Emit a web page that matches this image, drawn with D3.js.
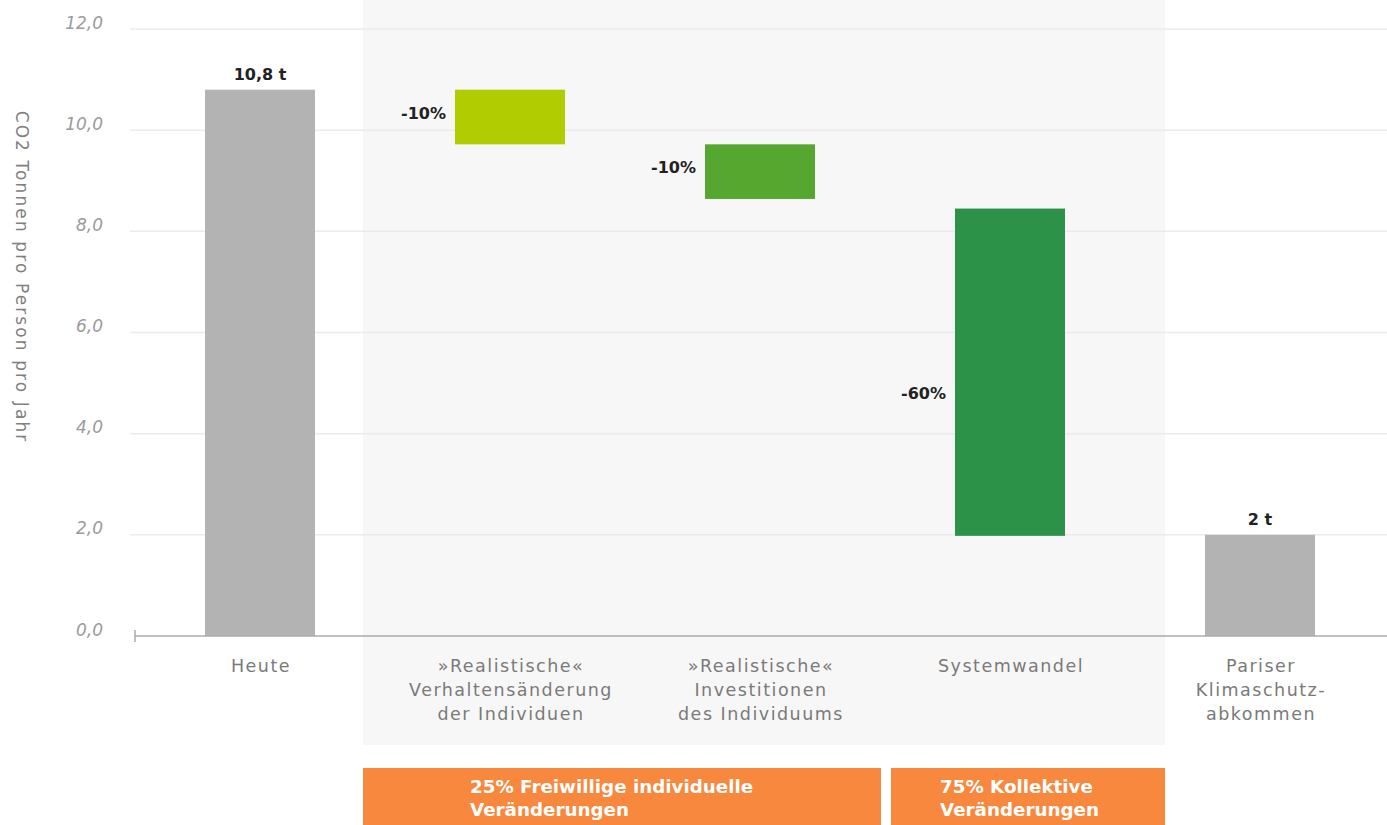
<!DOCTYPE html>
<html><head><meta charset="utf-8">
<script src="https://cdn.jsdelivr.net/npm/d3@7"></script>
<style>
html,body{margin:0;padding:0;background:#fff;}
svg{display:block;font-family:"DejaVu Sans",sans-serif;}
</style></head>
<body>
<svg id="c" width="1387" height="825"></svg>
<script>
const categories = [
  ["Heute"],
  ["»Realistische«","Verhaltensänderung","der Individuen"],
  ["»Realistische«","Investitionen","des Individuums"],
  ["Systemwandel"],
  ["Pariser","Klimaschutz-","abkommen"]
];
const barStart = [0, 10.8, 9.72, 8.45, 0];
const barEnd   = [10.8, 9.72, 8.64, 1.98, 2.0];
const barLabels = ["10,8 t", "-10%", "-10%", "-60%", "2 t"];
const barKinds = ["total","delta","delta","delta","total"];
const barColors = ["#b3b3b3", "#b1cc00", "#55a72f", "#2c9248", "#b3b3b3"];
const yTicks = [0, 2, 4, 6, 8, 10, 12];
const yTitle = "CO2 Tonnen pro Person pro Jahr";
const groups = [
  {from:1, to:2, label:["25% Freiwillige individuelle","Veränderungen"]},
  {from:3, to:3, label:["75% Kollektive","Veränderungen"]}
];

const svg = d3.select("#c");
const W = 1387, H = 825;
const m = {left:135, right:2, top:29, bottom:189};
const x = d3.scaleBand().domain(d3.range(categories.length)).range([m.left, W - m.right]).paddingInner(0.56).paddingOuter(0.28);
const y = d3.scaleLinear().domain([0, 12]).range([H - m.bottom, m.top]);

// shaded region behind delta bars
const shadeX0 = 363, shadeX1 = 1165;
svg.append("rect").attr("x", shadeX0).attr("y", 0).attr("width", shadeX1 - shadeX0).attr("height", 745).attr("fill", "#f7f7f7");

// gridlines
svg.append("g").selectAll("line").data(yTicks.filter(d => d > 0)).join("line")
  .attr("x1", 130).attr("x2", W).attr("y1", d => y(d)).attr("y2", d => y(d))
  .attr("stroke", "#ebebeb").attr("stroke-width", 1.5);

// y axis labels
const fmt = d => d3.format(".1f")(d).replace(".", ",");
const yAxis = svg.append("g").attr("transform", `translate(${m.left},0)`)
  .call(d3.axisLeft(y).tickValues(yTicks).tickFormat(fmt).tickSize(0).tickPadding(32));
yAxis.select(".domain").remove();
yAxis.attr("font-family", null);
yAxis.selectAll("text").attr("fill", "#9a9a9a").attr("font-size", 17).attr("font-style", "italic").attr("dy", "-0.05em");

// y title
svg.append("text").attr("transform", `translate(16,277) rotate(90)`)
  .attr("text-anchor", "middle").attr("fill", "#808080").attr("font-size", 17).attr("letter-spacing", 2.1).text(yTitle);

// bars
svg.append("g").selectAll("rect").data(categories).join("rect")
  .attr("x", (d, i) => x(i)).attr("width", x.bandwidth())
  .attr("y", (d, i) => y(Math.max(barStart[i], barEnd[i])))
  .attr("height", (d, i) => Math.abs(y(barStart[i]) - y(barEnd[i])))
  .attr("fill", (d, i) => barColors[i]);

// x axis line
svg.append("line").attr("x1", m.left).attr("x2", W).attr("y1", y(0)).attr("y2", y(0)).attr("stroke", "#aaa").attr("stroke-width", 1.5);
svg.append("line").attr("x1", m.left).attr("x2", m.left).attr("y1", y(0) - 6).attr("y2", y(0) + 6).attr("stroke", "#aaa").attr("stroke-width", 1.5);

// bar labels
svg.append("g").selectAll("text").data(categories).join("text")
  .attr("x", (d, i) => barKinds[i] === "total" ? x(i) + x.bandwidth()/2 : x(i) - 9)
  .attr("y", (d, i) => barKinds[i] === "total" ? y(barEnd[i]) - 10 : (y(barStart[i]) + y(barEnd[i]))/2 + (i === 3 ? 25 : 0))
  .attr("dy", (d, i) => barKinds[i] === "total" ? 0 : "0.1em")
  .attr("text-anchor", (d, i) => barKinds[i] === "total" ? "middle" : "end")
  .attr("font-size", 16).attr("font-weight", 700).attr("fill", "#222")
  .text((d, i) => barLabels[i]);

// category labels
const cl = svg.append("g").selectAll("text").data(categories).join("text")
  .attr("x", (d, i) => x(i) + x.bandwidth()/2 + 1).attr("y", 672)
  .attr("text-anchor", "middle").attr("font-size", 17.5).attr("letter-spacing", 1.5).attr("fill", "#7a7a7a");
cl.selectAll("tspan").data(d => d).join("tspan")
  .attr("x", function(){ return this.parentNode.getAttribute("x"); })
  .attr("dy", (d, j) => j === 0 ? 0 : 24).text(d => d);

// group boxes
const gb = svg.append("g").selectAll("g").data(groups).join("g");
gb.append("rect")
  .attr("x", d => d.from === 1 ? shadeX0 : 891)
  .attr("width", d => d.from === 1 ? 881 - shadeX0 : shadeX1 - 891)
  .attr("y", 768).attr("height", 60).attr("fill", "#f7883e");
gb.append("text")
  .attr("x", d => d.from === 1 ? 470 : 940)
  .attr("y", 793).attr("font-size", 18.3).attr("font-weight", 700).attr("fill", "#fff")
  .selectAll("tspan").data(d => d.label).join("tspan")
  .attr("x", function(){ return this.parentNode.getAttribute("x"); })
  .attr("dy", (d, j) => j === 0 ? 0 : 23).text(d => d);
</script>
</body></html>
